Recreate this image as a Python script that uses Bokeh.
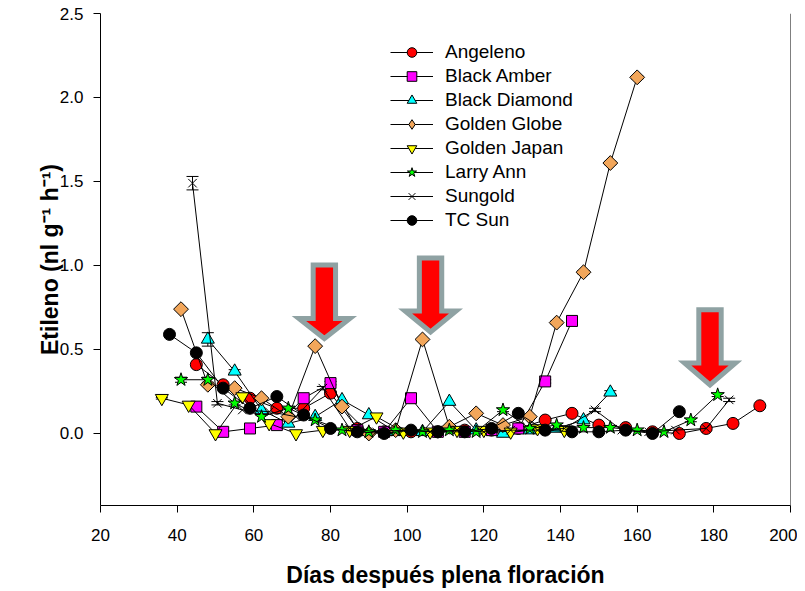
import math
from bokeh.plotting import figure
from bokeh.models import (ColumnDataSource, Whisker, TeeHead, Legend, LegendItem,
                          FixedTicker, PrintfTickFormatter, Range1d, Span, CDSView, IndexFilter)
from bokeh.embed import file_html
from bokeh.resources import INLINE

# ---------------- data ----------------
angeleno_day = [45, 52, 59, 66, 73, 80, 87, 94, 101, 108, 115, 122, 129, 136, 143, 150, 157, 164, 171, 178, 185, 192]
angeleno_val = [0.41, 0.29, 0.21, 0.15, 0.15, 0.24, 0.03, 0.01, 0.01, 0.01, 0.02, 0.02, 0.03, 0.08, 0.12, 0.05, 0.035, 0.01, 0.0, 0.03, 0.06, 0.165]
angeleno_err = [0, 0, 0, 0, 0, 0.01, 0, 0, 0, 0, 0, 0, 0, 0, 0, 0, 0, 0, 0, 0, 0, 0]

amber_day = [45, 52, 59, 66, 73, 80, 87, 94, 101, 108, 115, 122, 129, 136, 143]
amber_val = [0.16, 0.01, 0.03, 0.05, 0.21, 0.30, 0.02, 0.01, 0.21, 0.01, 0.01, 0.02, 0.03, 0.31, 0.67]
amber_err = [0, 0, 0, 0, 0, 0.01, 0, 0, 0, 0, 0, 0, 0, 0.01, 0.01]

diamond_day = [48, 55, 62, 69, 76, 83, 90, 97, 104, 111, 118, 125, 132, 139, 146, 153]
diamond_val = [0.56, 0.37, 0.14, 0.06, 0.10, 0.20, 0.11, 0.01, 0.01, 0.19, 0.02, 0.0, 0.02, 0.03, 0.08, 0.245]
diamond_err = [0.04, 0.01, 0, 0, 0, 0, 0, 0, 0, 0, 0, 0, 0, 0, 0, 0.01]

globe_day = [41, 48, 55, 62, 69, 76, 83, 90, 97, 104, 111, 118, 125, 132, 139, 146, 153, 160]
globe_val = [0.74, 0.29, 0.27, 0.21, 0.10, 0.52, 0.16, 0.0, 0.02, 0.56, 0.04, 0.12, 0.05, 0.10, 0.66, 0.96, 1.61, 2.12]
globe_err = [0, 0, 0, 0, 0, 0, 0, 0, 0, 0, 0, 0, 0, 0, 0.01, 0.01, 0.01, 0.01]

japan_day = [36, 43, 50, 57, 64, 71, 78, 85, 92, 99, 106, 113, 120, 127, 134, 141]
japan_val = [0.21, 0.17, 0.0, 0.22, 0.06, 0.0, 0.02, 0.02, 0.10, 0.01, 0.01, 0.02, 0.02, 0.01, 0.03, 0.02]
japan_err = [0.005, 0, 0, 0, 0, 0, 0, 0, 0, 0, 0, 0, 0, 0, 0, 0]

larry_day = [41, 48, 55, 62, 69, 76, 83, 90, 97, 104, 111, 118, 125, 132, 139, 146, 153, 160, 167, 174, 181]
larry_val = [0.32, 0.32, 0.18, 0.10, 0.15, 0.08, 0.02, 0.01, 0.02, 0.01, 0.02, 0.01, 0.14, 0.03, 0.05, 0.035, 0.035, 0.02, 0.01, 0.08, 0.23]
larry_err = [0.015, 0.015, 0.01, 0, 0, 0, 0, 0, 0, 0, 0, 0, 0.01, 0, 0, 0, 0, 0, 0, 0.01, 0.01]

sungold_day = [44, 50.5, 57, 64, 71, 78, 85, 92, 99, 106, 113, 120, 127, 134, 141, 149, 156, 163, 170, 178, 184]
sungold_val = [1.49, 0.18, 0.14, 0.13, 0.10, 0.27, 0.03, 0.01, 0.02, 0.01, 0.02, 0.01, 0.02, 0.02, 0.03, 0.14, 0.02, 0.01, 0.02, 0.03, 0.20]
sungold_err = [0.04, 0.01, 0, 0, 0, 0.01, 0, 0, 0, 0, 0, 0, 0, 0, 0, 0.01, 0, 0, 0, 0.01, 0.01]

tcsun_day = [38, 45, 52, 59, 66, 73, 80, 87, 94, 101, 108, 115, 122, 129, 136, 143, 150, 157, 164, 171]
tcsun_val = [0.59, 0.48, 0.27, 0.15, 0.22, 0.11, 0.03, 0.01, 0.0, 0.02, 0.01, 0.01, 0.03, 0.12, 0.02, 0.01, 0.01, 0.02, 0.0, 0.13]
tcsun_err = [0] * 20

series_names = ["Angeleno", "Black Amber", "Black Diamond", "Golden Globe",
                "Golden Japan", "Larry Ann", "Sungold", "TC Sun"]

# arrows (annotations): centre day, top, head base, tip (in data units)
arrow_day = [78.4, 106.1, 179.0]
arrow_top = [1.003, 1.045, 0.737]
arrow_head = [0.685, 0.729, 0.420]
arrow_tip = [0.565, 0.604, 0.289]

x_ticks = [20, 40, 60, 80, 100, 120, 140, 160, 180, 200]
y_ticks = [0.0, 0.5, 1.0, 1.5, 2.0, 2.5]

# ---------------- styles ----------------
# legend_marker: marker shown in the legend (the legend cannot rotate markers)
styles = [
    dict(marker="circle", fill="#FF0000", size=12, angle=0.0, legend_marker=None),
    dict(marker="square", fill="#FF00FF", size=11, angle=0.0, legend_marker=None),
    dict(marker="triangle", fill="#00FFFF", size=13, angle=0.0, legend_marker=None),
    dict(marker="square", fill="#F2A65A", size=10.5, angle=math.pi / 4, legend_marker="diamond"),
    dict(marker="inverted_triangle", fill="#FFFF00", size=13, angle=0.0, legend_marker=None),
    dict(marker="star", fill="#00FF00", size=14, angle=0.0, legend_marker=None),
    dict(marker="x", fill="#000000", size=12, angle=0.0, legend_marker=None),
    dict(marker="circle", fill="#000000", size=12, angle=0.0, legend_marker=None),
]
series = [
    (angeleno_day, angeleno_val, angeleno_err),
    (amber_day, amber_val, amber_err),
    (diamond_day, diamond_val, diamond_err),
    (globe_day, globe_val, globe_err),
    (japan_day, japan_val, japan_err),
    (larry_day, larry_val, larry_err),
    (sungold_day, sungold_val, sungold_err),
    (tcsun_day, tcsun_val, tcsun_err),
]

FONT = "Liberation Sans"

p = figure(width=797, height=591, output_backend="svg", toolbar_location=None,
           x_range=Range1d(20, 200), y_range=Range1d(-0.4286, 2.5),
           min_border_left=100, min_border_right=7, min_border_top=13, min_border_bottom=86)
p.xgrid.visible = False
p.ygrid.visible = False
p.outline_line_color = None
p.background_fill_color = "white"
p.border_fill_color = "white"

# right border line of the frame
p.add_layout(Span(location=200, dimension="height", line_color="black", line_width=1))

# arrows
SHAFT = 2.92   # half shaft width, days
HEADW = 6.65   # half head width, days
arrow_xs, arrow_ys = [], []
for d, t, h, tip in zip(arrow_day, arrow_top, arrow_head, arrow_tip):
    arrow_xs.append([d - SHAFT, d + SHAFT, d + SHAFT, d + HEADW, d, d - HEADW, d - SHAFT])
    arrow_ys.append([t, t, h, h, tip, h, h])
p.patches(arrow_xs, arrow_ys, fill_color="#FF0000", line_color="#8FA2A3",
          line_width=5, line_join="miter")

items = []
for name, (dx, dy, de), st in zip(series_names, series, styles):
    src = ColumnDataSource(dict(x=dx, y=dy))
    lr = p.line("x", "y", source=src, line_color="black", line_width=1)
    ex = [x for x, e in zip(dx, de) if e > 0]
    eu = [y + e for y, e in zip(dy, de) if e > 0]
    el = [y - e for y, e in zip(dy, de) if e > 0]
    if ex:
        wsrc = ColumnDataSource(dict(x=ex, upper=eu, lower=el))
        w = Whisker(source=wsrc, base="x", upper="upper", lower="lower", dimension="height",
                    line_color="black", line_width=1,
                    upper_head=TeeHead(size=12, line_color="black", line_width=1),
                    lower_head=TeeHead(size=12, line_color="black", line_width=1))
        p.add_layout(w)
    lg = None
    if st["legend_marker"]:
        # legend symbol renderer: one point of the same data, drawn underneath
        # (and fully hidden by) the rotated-square marker of that point
        lg = p.scatter("x", "y", source=src, view=CDSView(filter=IndexFilter(indices=[0])),
                       marker=st["legend_marker"], size=8,
                       fill_color=st["fill"], line_color="black", line_width=1)
    sr = p.scatter("x", "y", source=src, marker=st["marker"], size=st["size"],
                   angle=st["angle"], fill_color=st["fill"], line_color="black", line_width=1)
    items.append(LegendItem(label=name, renderers=[lr, lg if lg is not None else sr]))

# legend: location is its bottom-left corner, in px from the frame's bottom-left
legend = Legend(items=items, location=(290, 273), orientation="vertical",
                border_line_color=None, background_fill_alpha=0.0,
                glyph_width=43, glyph_height=24, spacing=0, padding=0, margin=0,
                label_standoff=12, label_text_font=FONT, label_text_font_size="19px",
                label_text_color="black")
p.add_layout(legend)

# axes
p.xaxis.ticker = FixedTicker(ticks=x_ticks)
p.yaxis.ticker = FixedTicker(ticks=y_ticks)
p.xaxis.formatter = PrintfTickFormatter(format="%d")
p.yaxis.formatter = PrintfTickFormatter(format="%.1f")
for ax in (p.xaxis[0], p.yaxis[0]):
    ax.major_tick_out = 7
    ax.major_tick_in = 0
    ax.minor_tick_out = 0
    ax.minor_tick_in = 0
    ax.axis_line_color = "black"
    ax.major_tick_line_color = "black"
    ax.major_label_text_font = FONT
    ax.major_label_text_font_size = "17px"
    ax.major_label_text_color = "black"
    ax.axis_label_text_font = FONT
    ax.axis_label_text_font_size = "23px"
    ax.axis_label_text_font_style = "bold"
    ax.axis_label_text_color = "black"

p.xaxis[0].axis_label = "Días después plena floración"
p.yaxis[0].axis_label = "Etileno (nl g⁻¹ h⁻¹)"
p.xaxis[0].major_label_standoff = 16
p.yaxis[0].major_label_standoff = 10
p.xaxis[0].axis_label_standoff = 18
p.yaxis[0].axis_label_standoff = -6

open("out.html", "w").write(file_html(p, INLINE))
